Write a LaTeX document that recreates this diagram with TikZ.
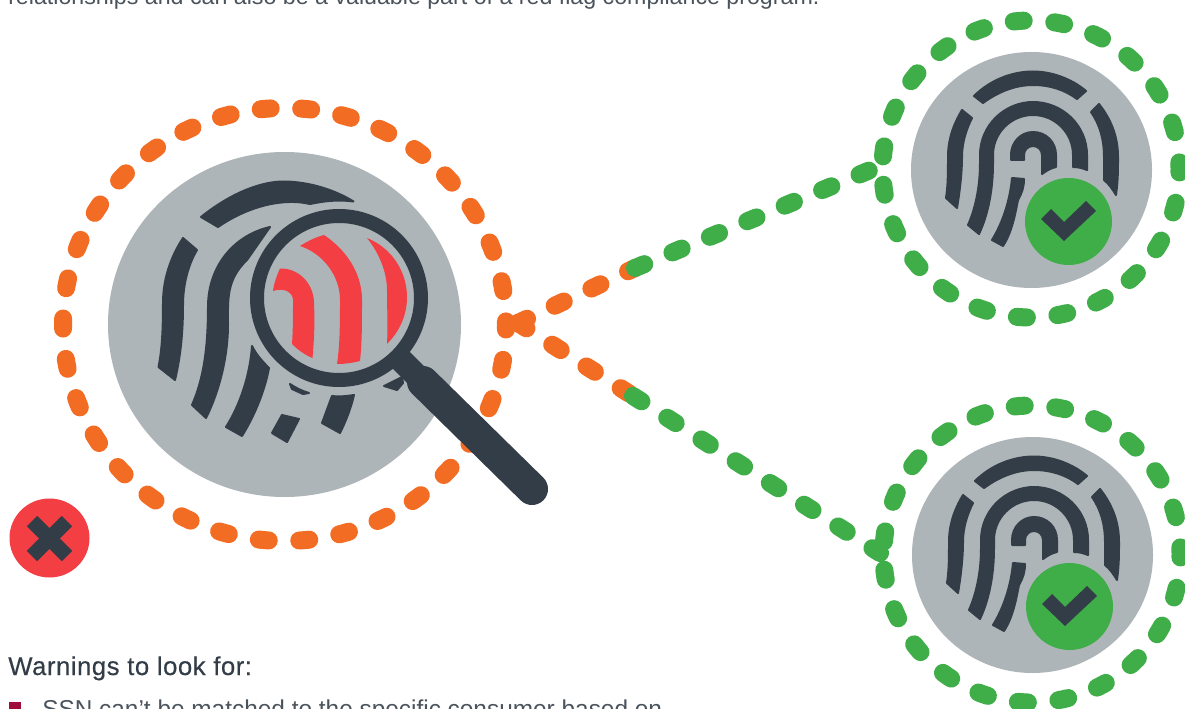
\documentclass[tikz,border=0pt]{standalone}
\usepackage{fontspec}
\setmainfont{Liberation Sans}
\newfontfamily\headfont[FakeBold=0.35,LetterSpace=2]{Liberation Sans}
\definecolor{ringorange}{RGB}{243,108,35}
\definecolor{ringgreen}{RGB}{63,174,73}
\definecolor{discgray}{RGB}{174,181,184}
\definecolor{ridgedark}{RGB}{51,61,71}
\definecolor{alarmred}{RGB}{243,62,68}
\definecolor{bulletred}{RGB}{160,13,58}
\tikzset{
  dashring/.style={line width=13.5pt,line cap=round,dash pattern=on 7.5pt off 22.9pt},
  dashsmall/.style={line width=13.5pt,line cap=round,dash pattern=on 7.5pt off 23pt,dash phase=21pt},
  ridge/.style={fill=ridgedark,draw=ridgedark,line width=1.5pt,line join=round},
  redridge/.style={fill=alarmred},
  bodytext/.style={anchor=base west,inner sep=0pt,text=ridgedark!88!white},
}
\newcommand{\okprint}[2]{%
\begin{scope}[shift={(#1,#2)}]
%Dashed ring
\draw [dashsmall,ringgreen] (882.5,169) arc [start angle=180,end angle=540,radius=148.5];
%Shape: Circle
\fill [discgray] (1031.5,170) ellipse [x radius=120.5,y radius=118];
%Shape: Ridges
\path [ridge] (974,96) .. controls (990,80) and (1012,71.5) .. (1033,71.5) .. controls (1052,71.5) and (1072,79) .. (1086,91) -- (1077,99) .. controls (1065,90) and (1050,85) .. (1033,85) .. controls (1015,85) and (998,92) .. (983,103) -- cycle;
\path [ridge] (962,110) .. controls (953,125) and (948,140) .. (948,157) .. controls (948,172) and (948,185) .. (946,198) -- (957,208) .. controls (960,190) and (962,172) .. (962,157) .. controls (962,143) and (966,130) .. (972,118) -- cycle;
\path [ridge] (968,225) .. controls (976,207) and (980,185) .. (980,163) -- (980,155) .. controls (980,125) and (1005,102) .. (1033,102) .. controls (1062,102) and (1087,125) .. (1087,155) -- (1087,170) .. controls (1082,168) and (1078,167) .. (1073,167) -- (1073,155) .. controls (1073,133) and (1055,115) .. (1033,115) .. controls (1011,115) and (993,133) .. (993,155) -- (993,163) .. controls (993,190) and (988,215) .. (979,234) -- cycle;
\path [ridge] (1011,160) -- (1011,155) .. controls (1011,142) and (1021,132) .. (1033,132) .. controls (1046,132) and (1056,142) .. (1056,155) -- (1056,167) .. controls (1051,168) and (1046,171) .. (1042,174) -- (1042,155) .. controls (1042,150) and (1038,146) .. (1033,146) .. controls (1028,146) and (1024,150) .. (1024,155) -- (1024,160) -- cycle;
\path [ridge] (1012,178) .. controls (1010,200) and (1003,222) .. (992,240) -- (1003,246) .. controls (1012,232) and (1015,215) .. (1018,200) .. controls (1022,193) and (1024,187) .. (1024,179) -- cycle;
\path [ridge] (1091,112) .. controls (1100,125) and (1104,140) .. (1104,157) -- (1104,180) .. controls (1109,184) and (1113,190) .. (1116,195) .. controls (1118,180) and (1118,170) .. (1118,157) .. controls (1118,135) and (1110,118) .. (1099,104) -- cycle;
%Shape: Badge
\fill [ringgreen] (1068.5,221.5) circle (43.5);
\fill [ridgedark] (1041,219) -- (1051,209) -- (1064,222) -- (1086,201) -- (1096,211) -- (1064,241) -- cycle;
\end{scope}
}

\begin{document}
\begin{tikzpicture}[x=0.75pt,y=0.75pt,yscale=-1,xscale=1]
\useasboundingbox (0,0) rectangle (1185,709);
\clip (0,0) rectangle (1185,709);
\fill [white] (0,0) rectangle (1185,709);

% Named ends of the dashed links
\coordinate (hub) at (518,323);
\coordinate (upmid) at (635,268);
\coordinate (upend) at (880,166);
\coordinate (lowmid) at (633,396);
\coordinate (lowend) at (880,553);

%Dashed ring
\draw [dashring,ringorange,dash phase=3.75pt] (506,324.5) arc [start angle=0,end angle=360,x radius=221.5,y radius=216.5];

%Straight Lines
\draw [dashring,ringorange] (hub) -- (upmid) ;
\draw [dashring,ringgreen] (upmid) -- (upend) ;
\draw [dashring,ringorange] (hub) -- (lowmid) ;
\draw [dashring,ringgreen] (lowmid) -- (lowend) ;

%Shape: Circle
\fill [discgray] (284.5,324.5) ellipse [x radius=176.5,y radius=172.5];

%Shape: Ridges
\path [ridge] (201,217) .. controls (232,192) and (263,181) .. (285,181.5) .. controls (310,182) and (335,190) .. (353.5,201.5) .. controls (335,199) and (320,202) .. (310,204) .. controls (285,198) and (250,205) .. (218,227) -- cycle;
\path [ridge] (183,238) .. controls (170,258) and (163,280) .. (163,303) .. controls (163,330) and (162,350) .. (158.5,367) -- (175,380) .. controls (181,355) and (183,330) .. (183,305) .. controls (183,285) and (188,265) .. (197,250) -- cycle;
\path [ridge] (270,227) .. controls (235,235) and (208,265) .. (208,307) .. controls (208,350) and (203,380) .. (192,405) -- (206,418) .. controls (220,390) and (228,355) .. (228,325) .. controls (228,300) and (226,280) .. (247,260) -- cycle;
\path [ridge] (252,346) .. controls (250,375) and (240,405) .. (226,427) -- (242,436) .. controls (255,415) and (265,390) .. (269,368) .. controls (261,360) and (256,354) .. (252,346) -- cycle;
\path [ridge] (272,433) -- (282,415) -- (299,419) -- (287,442) -- cycle;
\path [ridge] (290,384) .. controls (296,388) and (302,391) .. (309,393) -- (303,394) -- (292,389) -- cycle;
\path [ridge] (332,396) .. controls (340,397) and (347,396) .. (354,395) .. controls (351,408) and (346,421) .. (340,433) -- (322,423) -- cycle;
\path [ridge] (384,386) -- (402,377) -- (403,383) -- (397,390) -- cycle;

%Magnifier handle
\draw [ridgedark,line width=18pt] (395,354) -- (423,382) ;
\draw [ridgedark,line width=24pt,line cap=round] (423,382) -- (532,489) ;

%Magnifier glass
\draw [ridgedark,fill=discgray,line width=10.5pt] (339,298) circle (82);

%Shape: Red ridges
\path [redridge] (280,268.5) .. controls (300,268) and (314,285) .. (314,303) .. controls (315,325) and (314,340) .. (312.5,358) .. controls (305,355) and (298,350) .. (292,344) .. controls (293,330) and (293,315) .. (293,300) .. controls (293,293) and (285,287) .. (273,291) .. controls (274,283) and (277,275) .. (280,268.5) -- cycle;
\path [redridge] (300,246) .. controls (308,241) and (316,237) .. (324,235) .. controls (345,249) and (362,272) .. (362,300) .. controls (362,325) and (362,343) .. (360,361) .. controls (352,363) and (345,364) .. (337,364) .. controls (340,345) and (340,320) .. (340,300) .. controls (340,275) and (322,253) .. (300,246) -- cycle;
\path [redridge] (367,238) .. controls (392,248) and (407,272) .. (407,297) .. controls (407,316) and (399,332) .. (387,344) .. controls (388,325) and (387,310) .. (387,290) .. controls (387,272) and (379,253) .. (367,238) -- cycle;

\okprint{0}{0}
\okprint{1}{385}

%Shape: Alarm badge
\fill [alarmred] (49.5,538) ellipse [x radius=40,y radius=39.5];
\draw [ridgedark,line width=11pt] (32,521) -- (67,556) ;
\draw [ridgedark,line width=11pt] (67,521) -- (32,556) ;

%Bullet
\fill [bulletred] (9,702) rectangle (21,716);

% Text Node
\node (intro) [bodytext,font=\fontsize{17.4pt}{20pt}\selectfont] at (8,5) {relationships and can also be a valuable part of a red flag compliance program.};
% Text Node
\node (warnhead) [bodytext,font=\headfont\fontsize{19.3pt}{22pt}\selectfont,text=ridgedark] at (8,675) {Warnings to look for:};
% Text Node
\node (warnitem) [bodytext,font=\fontsize{18.3pt}{22pt}\selectfont] at (42,717) {SSN can’t be matched to the specific consumer based on};

\end{tikzpicture}
\end{document}
